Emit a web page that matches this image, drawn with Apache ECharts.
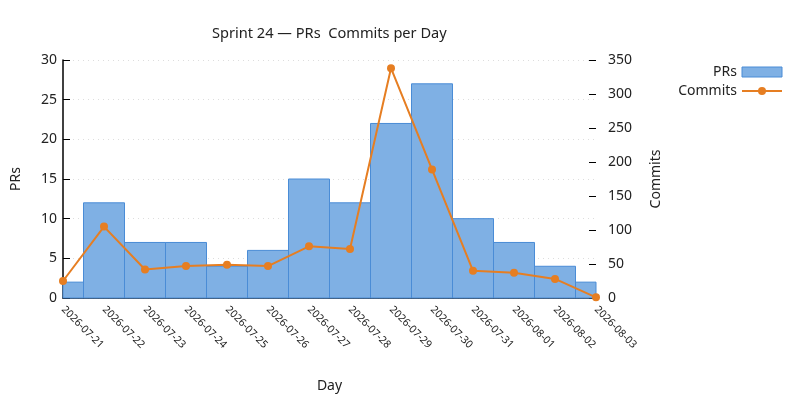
<!DOCTYPE html>
<html>
<head>
<meta charset="utf-8">
<script src="https://cdn.jsdelivr.net/npm/echarts@6/dist/echarts.min.js"></script>
<style>
    html, body { margin: 0; padding: 0; background: #ffffff; }
    #chart { width: 800px; height: 400px; }
</style>
</head>
<body>
<div id="chart"></div>
<script>
    // 数据
    var days = ['2026-07-21', '2026-07-22', '2026-07-23', '2026-07-24', '2026-07-25', '2026-07-26', '2026-07-27',
        '2026-07-28', '2026-07-29', '2026-07-30', '2026-07-31', '2026-08-01', '2026-08-02', '2026-08-03'];
    var prs = [2, 12, 7, 7, 4, 6, 15, 12, 22, 27, 10, 7, 4, 2];
    var commits = [25, 105, 42, 47, 49, 47, 76, 72, 338, 189, 40, 37, 28, 1];

    var font = 'Noto Sans';
    var barFill = '#7fb0e4';
    var barEdge = '#4a8cd6';
    var myChart = echarts.init(document.getElementById('chart'));

    // 柱子以日期为中心，宽度一天，超出绘图区的部分裁掉
    function renderBar(params, api) {
        var idx = api.value(0);
        var top = api.coord([idx, api.value(1)]);
        var base = api.coord([idx, 0]);
        var w = api.size([1, 0])[0];
        var rect = echarts.graphic.clipRectByRect({
            x: top[0] - w / 2,
            y: top[1],
            width: w,
            height: base[1] - top[1]
        }, {
            x: params.coordSys.x,
            y: params.coordSys.y,
            width: params.coordSys.width,
            height: params.coordSys.height
        });
        return rect && {
            type: 'rect',
            shape: rect,
            style: {fill: barFill, stroke: barEdge, lineWidth: 1}
        };
    }

    myChart.setOption({
        animation: false,
        textStyle: {fontFamily: font},
        title: {
            text: 'Sprint 24 \u2014 PRs  Commits per Day',
            left: 207,
            top: 21,
            textStyle: {fontFamily: font, fontSize: 14.6, fontWeight: 'normal', color: '#222'}
        },
        legend: {
            orient: 'vertical',
            right: 12,
            top: 60,
            align: 'right',
            itemWidth: 40,
            itemHeight: 10,
            itemGap: 5,
            textStyle: {fontFamily: font, fontSize: 14, color: '#222'},
            data: [
                {name: 'PRs', icon: 'rect', itemStyle: {color: barFill, borderColor: barEdge, borderWidth: 1}},
                {name: 'Commits'}
            ]
        },
        grid: {
            left: 63,
            right: 204,
            top: 60,
            bottom: 102,
            outerBoundsMode: 'none'
        },
        xAxis: {
            type: 'category',
            boundaryGap: false,
            data: days,
            name: 'Day',
            nameLocation: 'middle',
            nameGap: 81,
            nameTextStyle: {fontFamily: font, fontSize: 14, color: '#222'},
            axisLine: {lineStyle: {color: '#000', width: 1.5}},
            axisTick: {show: false},
            axisLabel: {rotate: -45, fontSize: 10.5, color: '#222', margin: 10, interval: 0}
        },
        yAxis: [{
            type: 'value',
            min: 0,
            max: 30,
            interval: 5,
            name: 'PRs',
            nameLocation: 'middle',
            nameGap: 40,
            nameTextStyle: {fontFamily: font, fontSize: 14, color: '#222'},
            axisLine: {show: true, lineStyle: {color: '#000', width: 1.5}},
            axisTick: {show: true, inside: true, length: 7, lineStyle: {color: '#000'}},
            axisLabel: {fontSize: 14, color: '#222', margin: 6},
            splitLine: {lineStyle: {color: '#dddddd', type: [1, 4]}}
        }, {
            type: 'value',
            min: 0,
            max: 350,
            interval: 50,
            name: 'Commits',
            nameLocation: 'middle',
            nameGap: 53,
            nameTextStyle: {fontFamily: font, fontSize: 14, color: '#222'},
            axisLine: {show: false},
            axisTick: {show: true, inside: true, length: 7, lineStyle: {color: '#000'}},
            axisLabel: {fontSize: 14, color: '#222', margin: 12},
            splitLine: {show: false}
        }],
        series: [{
            name: 'PRs',
            type: 'custom',
            renderItem: renderBar,
            itemStyle: {color: barFill, borderColor: barEdge},
            encode: {x: 0, y: 1},
            data: prs.map(function (v, i) { return [i, v]; })
        }, {
            name: 'Commits',
            type: 'line',
            yAxisIndex: 1,
            data: commits,
            symbol: 'circle',
            symbolSize: 8,
            itemStyle: {color: '#e67e22'},
            lineStyle: {color: '#e67e22', width: 2}
        }]
    });
</script>
</body>
</html>
